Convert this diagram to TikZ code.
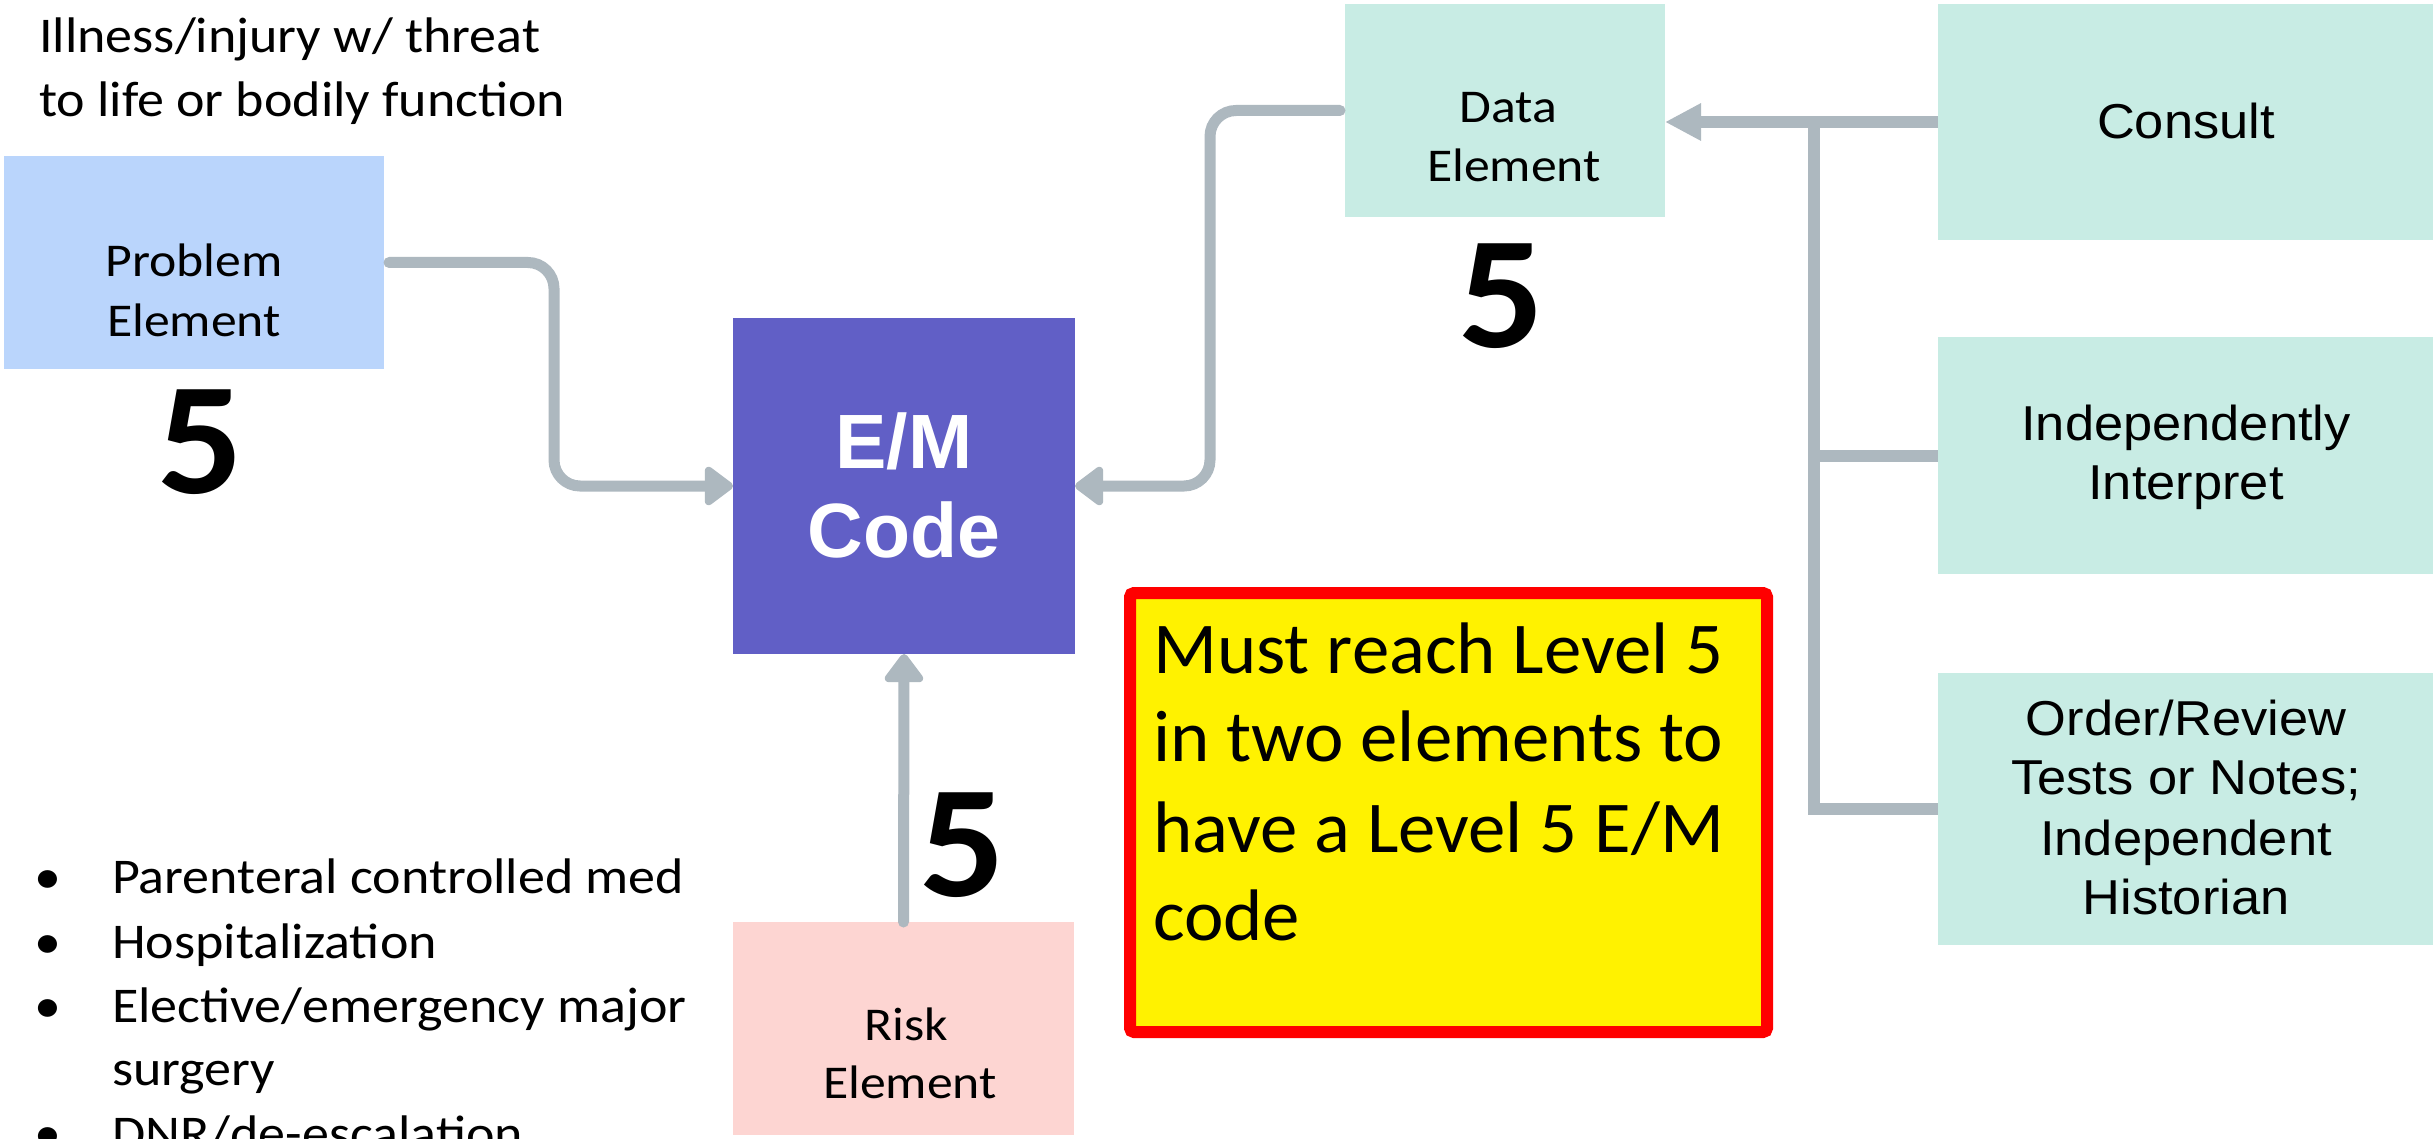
\documentclass[tikz,border=0pt]{standalone}
\usepackage{fontspec}
\setmainfont{Carlito}
\newfontfamily\uifont[FakeStretch=1.07]{Liberation Sans}
\newfontfamily\emfont{Liberation Sans}
\newfontfamily\elemfont[FakeStretch=1.10]{Carlito}
\newfontfamily\plainfont[FakeStretch=1.08]{Carlito}
\newfontfamily\notefont[FakeStretch=1.025]{Carlito}
\newfontfamily\fivefont[FakeStretch=1.06]{Carlito}
\usetikzlibrary{arrows.meta}

\definecolor{problemblue}{HTML}{BAD5FC}
\definecolor{emviolet}{HTML}{615FC6}
\definecolor{datagreen}{HTML}{C8ECE4}
\definecolor{riskpink}{HTML}{FDD5D2}
\definecolor{linkgray}{HTML}{ADB8BF}

\begin{document}
\begin{tikzpicture}[x=1pt, y=-1pt,
  box/.style={rectangle, draw=none, inner sep=0pt, outer sep=0pt},
  lbl/.style={inner sep=0pt, anchor=base},
  lblw/.style={inner sep=0pt, anchor=base west},
  elemtext/.style={font=\elemfont\fontsize{47}{57}\selectfont},
  uitext/.style={font=\uifont\fontsize{49}{59}\selectfont},
  emtext/.style={text=white, font=\emfont\bfseries\fontsize{77}{89}\selectfont},
  bigfive/.style={inner sep=0pt, anchor=base, font=\fivefont\bfseries\fontsize{160}{160}\selectfont},
  plain/.style={font=\plainfont\fontsize{50}{64}\selectfont},
  conn/.style={draw=linkgray, line width=11pt, line cap=round, rounded corners=26pt,
    -{Triangle[length=31pt, width=44pt, round]}},
  bus/.style={draw=linkgray, line width=12pt, line cap=butt, line join=miter},
  busarrow/.style={bus, -{Triangle[length=36pt, width=35pt]}}
]
\useasboundingbox (0,0) rectangle (2433,1139);
\clip (0,0) rectangle (2433,1139);
\fill[white] (0,0) rectangle (2433,1139);

% element boxes
\node[box, fill=problemblue, minimum width=380, minimum height=213] (problem) at (194,262.5) {};
\node[box, fill=emviolet, minimum width=342, minimum height=336] (em) at (904,486) {};
\node[box, fill=datagreen, minimum width=320, minimum height=213] (data) at (1505,110.5) {};
\node[box, fill=riskpink, minimum width=341, minimum height=213] (risk) at (903.5,1028.5) {};

% data sub-elements
\node[box, fill=datagreen, minimum width=520, minimum height=236] (consult) at (2198,122) {};
\node[box, fill=datagreen, minimum width=520, minimum height=237] (interp) at (2198,455.5) {};
\node[box, fill=datagreen, minimum width=520, minimum height=272] (order) at (2198,809) {};

% box labels
\node[lbl, elemtext] (problem-l1) at (194,277) {Problem};
\node[lbl, elemtext] (problem-l2) at (194,337) {Element};
\node[lbl, elemtext] (data-l1) at (1508,123) {Data};
\node[lbl, elemtext] (data-l2) at (1514,182) {Element};
\node[lbl, elemtext] (risk-l1) at (906,1040) {Risk};
\node[lbl, elemtext] (risk-l2) at (910,1098) {Element};
\node[lbl, emtext] (em-l1) at (904,468) {E/M};
\node[lbl, emtext] (em-l2) at (904,557) {Code};
\node[lbl, uitext] (consult-l1) at (2186,139) {Consult};
\node[lbl, uitext] (interp-l1) at (2186,440) {Independently};
\node[lbl, uitext] (interp-l2) at (2186,499) {Interpret};
\node[lbl, uitext] (order-l1) at (2186,735) {Order/Review};
\node[lbl, uitext] (order-l2) at (2186,794) {Tests or Notes;};
\node[lbl, uitext] (order-l3) at (2186,855) {Independent};
\node[lbl, uitext] (order-l4) at (2186,914) {Historian};

% level scores
\node[bigfive] (problem-five) at (200,493) {5};
\node[bigfive] (data-five) at (1501,348) {5};
\node[bigfive] (risk-five) at (962,896) {5};

% problem note
\node[lblw, plain] (illness-l1) at (39,53) {Illness/injury w/ threat};
\node[lblw, plain] (illness-l2) at (39,117) {to life or bodily function};

% risk examples
\foreach \yy/\txt/\nm in {893/Parenteral controlled med/a, 958/Hospitalization/b,
    1022/Elective\slash emergency major/c, 1150/DNR\slash de-escalation/e} {
  \node[lbl, plain] (bullet-\nm) at (48,\yy) {•};
  \node[lblw, plain] (risk-item-\nm) at (112,\yy) {\txt};
}
\node[lblw, plain] (risk-item-d) at (112,1085) {surgery};

% connectors into the E/M code
\draw[conn] ([xshift=5pt]problem.east) -- ++(165,0) |- (em.west);
\draw[conn] ([xshift=-5pt]data.west) -- ++(-130,0) |- (em.east);
\draw[conn] (risk.north) -- (em.south);

% data sub-element bus
\coordinate (spine) at (1814,122);
\draw[busarrow] (consult.west) -- (consult.west -| data.east);
\draw[bus] (spine) |- (order.west);
\draw[bus] (spine |- interp.west) -- (interp.west);

% requirement note
\node[box, draw=red, fill=yellow, line width=12pt, rounded corners=4pt,
  minimum width=637, minimum height=439] (note) at (1448.5,812.5) {};
\foreach \yy/\txt/\nm in {673/Must reach Level 5/1, 761/in two elements to/2,
    852/have a Level 5 E\slash M/3, 940/code/4} {
  \node[lblw, font=\notefont\fontsize{73}{89}\selectfont] (note-l\nm) at (1153,\yy) {\txt};
}
\end{tikzpicture}
\end{document}
